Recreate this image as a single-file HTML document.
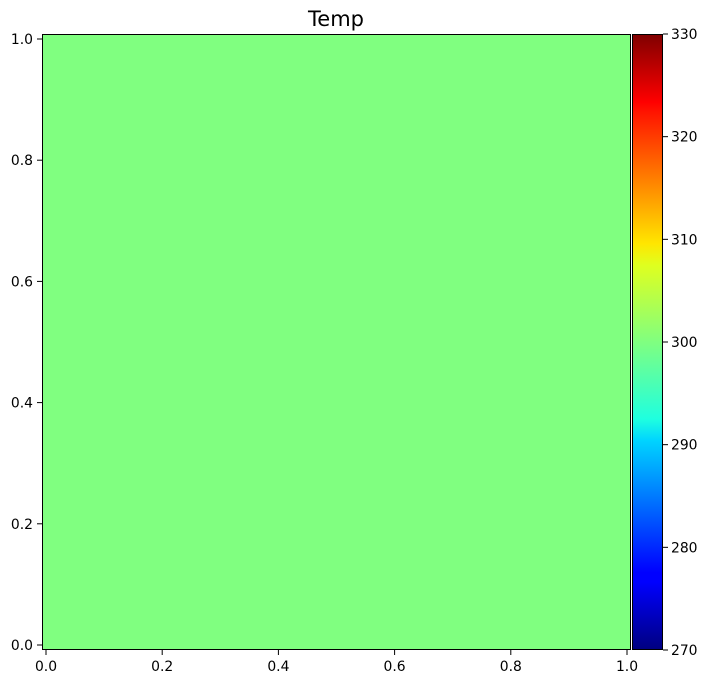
<!DOCTYPE html>
<html><head><meta charset="utf-8"><style>
body{margin:0;background:#fff}
</style></head><body>
<svg width="707" height="684" xmlns="http://www.w3.org/2000/svg" font-family="DejaVu Sans, sans-serif">
<defs>
<linearGradient id="jet" x1="0" y1="1" x2="0" y2="0">
<stop offset="0" stop-color="#000080"/>
<stop offset="0.11" stop-color="#0000ff"/>
<stop offset="0.125" stop-color="#0000ff"/>
<stop offset="0.34" stop-color="#00d4ff"/>
<stop offset="0.375" stop-color="#1fffdf"/>
<stop offset="0.5" stop-color="#80ff80"/>
<stop offset="0.625" stop-color="#dfff1f"/>
<stop offset="0.66" stop-color="#ffe600"/>
<stop offset="0.875" stop-color="#ff1300"/>
<stop offset="0.89" stop-color="#ff0000"/>
<stop offset="1" stop-color="#800000"/>
</linearGradient>
</defs>
<text x="336" y="26" font-size="21" text-anchor="middle">Temp</text>
<g id="plot"></g>
<rect x="632.5" y="34.5" width="30" height="615" fill="url(#jet)" stroke="#000" stroke-width="1"/>
<g id="ticks" font-size="13.9"></g>
</svg>
<script>
const xTicks=[0.0,0.2,0.4,0.6,0.8,1.0];
const yTicks=[0.0,0.2,0.4,0.6,0.8,1.0];
const cbTicks=[270,280,290,300,310,320,330];
const fieldValue=[300];
const cmin=270,cmax=330;
const NS='http://www.w3.org/2000/svg';
const X=v=>46+v*581, Y=v=>645-v*606, C=v=>650-(v-cmin)/(cmax-cmin)*616;
function jet(t){const r=Math.min(4*t-1.5,-4*t+4.5),g=Math.min(4*t-0.5,-4*t+3.5),b=Math.min(4*t+0.5,-4*t+2.5);
const c=x=>Math.round(255*Math.max(0,Math.min(1,x)));return `rgb(${c(r)},${c(g)},${c(b)})`;}
const plot=document.getElementById('plot'),tk=document.getElementById('ticks');
function mk(tag,a,p){const e=document.createElementNS(NS,tag);for(const k in a)e.setAttribute(k,a[k]);p.appendChild(e);return e;}
const f=mk('rect',{x:42.5,y:34.5,width:588,height:615,fill:jet((fieldValue[0]-cmin)/(cmax-cmin)),stroke:'#000','stroke-width':1},plot);


xTicks.forEach(v=>{const l=mk('line',{x1:X(v),x2:X(v),y1:650,y2:655,stroke:'#000'},tk);


const t=mk('text',{x:X(v),y:671,'text-anchor':'middle'},tk);t.textContent=v.toFixed(1);

});
yTicks.forEach(v=>{const l=mk('line',{x1:37,x2:42,y1:Y(v),y2:Y(v),stroke:'#000'},tk);


const t=mk('text',{x:33,y:Y(v)+5,'text-anchor':'end'},tk);t.textContent=v.toFixed(1);

});
cbTicks.forEach(v=>{const l=mk('line',{x1:663,x2:668,y1:C(v),y2:C(v),stroke:'#000'},tk);


const t=mk('text',{x:671,y:C(v)+5},tk);t.textContent=v;

});
</script>
</body></html>
